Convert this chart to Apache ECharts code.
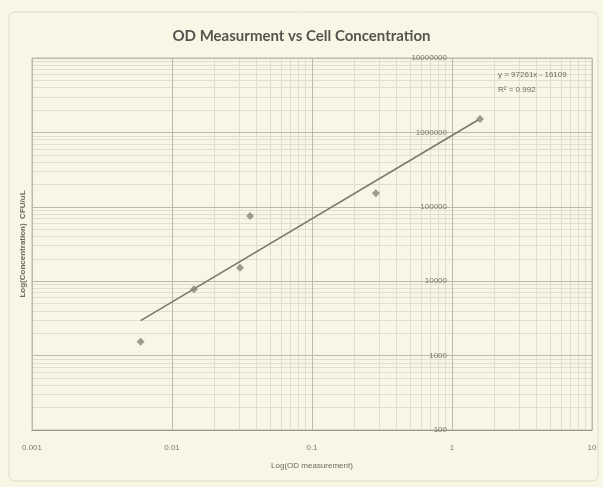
<!DOCTYPE html>
<html>
<head>
<meta charset="utf-8">
<script src="https://cdn.jsdelivr.net/npm/echarts@6/dist/echarts.min.js"></script>
<style>
html,body{margin:0;padding:0;background:#f8f7e6;}
#chart{width:603px;height:487px;}
</style>
</head>
<body>
<div id="chart"></div>
<script>
// Measured points (OD, CFU/uL)
var odValues = [0.00597, 0.01436, 0.0306, 0.0361, 0.286, 1.585];
var cfuValues = [1537, 7785, 15180, 75200, 151800, 1514000];
// Trendline endpoints
var trendOD = [0.00597, 1.534];
var trendCFU = [2946, 1468000];
var xTickLabels = ['0.001', '0.01', '0.1', '1', '10'];
var yTickLabels = ['100', '1000', '10000', '100000', '1000000', '10000000'];
var titleText = 'OD Measurment vs Cell Concentration';
var xName = 'Log(OD measurement)';
var yName = 'Log(Concentration)  CFU/uL';
var eqText = 'y = 97261x - 16109';
var r2Text = 'R\u00b2 = 0.992';

var points = odValues.map(function (v, i) { return [v, cfuValues[i]]; });
var trend = trendOD.map(function (v, i) { return [v, trendCFU[i]]; });

// minor gridlines at 2..9 of each decade
var minorX = [], minorY = [];
[0.001, 0.01, 0.1, 1].forEach(function (d) { for (var k = 2; k <= 9; k++) minorX.push({ xAxis: d * k }); });
[100, 1000, 10000, 100000, 1000000].forEach(function (d) { for (var k = 2; k <= 9; k++) minorY.push({ yAxis: d * k }); });

var chart = echarts.init(document.getElementById('chart'));
var lab = { color: '#7a7a70', fontSize: 8, fontFamily: 'Liberation Sans' };
chart.setOption({
  backgroundColor: '#f8f7e6',
  animation: false,
  title: {
    text: titleText, left: 'center', top: 24,
    textStyle: { fontFamily: 'Lato', fontWeight: 'bold', fontSize: 15, color: '#55554e' }
  },
  graphic: [
    { type: 'rect', shape: { x: 9, y: 12, width: 589, height: 469, r: 6 }, style: { fill: 'none', stroke: '#dcdccb', lineWidth: 1 }, silent: true, z: -1 },
    { type: 'text', left: 498, top: 71, z: 10, style: { text: eqText, fill: '#6a6a60', fontSize: 8, fontFamily: 'Liberation Sans' } },
    { type: 'text', left: 498, top: 86, z: 10, style: { text: r2Text, fill: '#6a6a60', fontSize: 8, fontFamily: 'Liberation Sans' } }
  ],
  grid: { left: 32, right: 11, top: 58, bottom: 57, show: true, borderColor: '#b9bca6', borderWidth: 1 },
  xAxis: {
    type: 'log', logBase: 10, min: 0.001, max: 10,
    name: xName, nameLocation: 'middle', nameGap: 32,
    nameTextStyle: { color: '#6a6a60', fontSize: 8, fontFamily: 'Liberation Sans' },
    axisLine: { lineStyle: { color: '#9a9d88' } },
    axisTick: { show: false },
    axisLabel: Object.assign({ margin: 14, formatter: function (v, i) { return xTickLabels[i]; } }, lab),
    splitLine: { show: true, lineStyle: { color: '#b9bca6', width: 1 } }
  },
  yAxis: [{
    type: 'log', logBase: 10, min: 100, max: 10000000, position: 'left', offset: -420,
    axisLine: { show: false }, axisTick: { show: false },
    axisLabel: Object.assign({ margin: 5, formatter: function (v, i) { return yTickLabels[i]; } }, lab),
    splitLine: { show: true, lineStyle: { color: '#b9bca6', width: 1 } }
  }, {
    type: 'log', logBase: 10, min: 100, max: 10000000, position: 'left',
    name: yName, nameLocation: 'middle', nameGap: 5,
    nameTextStyle: { color: '#6a6a60', fontSize: 8, fontFamily: 'Liberation Sans', fontWeight: 'bold' },
    axisLine: { show: false }, axisTick: { show: false }, axisLabel: { show: false }, splitLine: { show: false }
  }],
  series: [{
    type: 'line', data: [], silent: true, z: -5,
    markLine: {
      silent: true, symbol: 'none', label: { show: false }, z: -5,
      lineStyle: { color: '#dfe0cc', width: 1, type: 'solid' },
      data: minorX.concat(minorY)
    }
  }, {
    type: 'line', data: trend, showSymbol: false, symbol: 'none',
    lineStyle: { color: '#777770', width: 1.5 }, z: 5
  }, {
    type: 'scatter', data: points, symbol: 'diamond', symbolSize: 8,
    itemStyle: { color: '#8b8377' }, z: 6
  }]
});
</script>
</body>
</html>
